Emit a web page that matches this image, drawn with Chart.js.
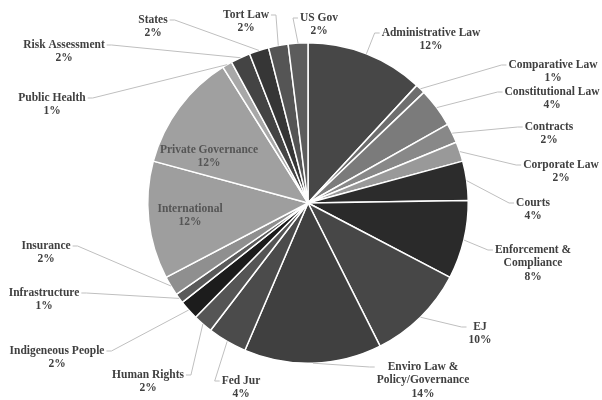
<!DOCTYPE html>
<html>
<head>
<meta charset="utf-8">
<script src="https://cdn.jsdelivr.net/npm/chart.js@4"></script>
<style>
  html, body { margin: 0; padding: 0; background: #fff; }
  #wrap { width: 602px; height: 400px; }
</style>
</head>
<body>
<div id="wrap"><canvas id="pie"></canvas></div>
<script>
const categories = [
  'Administrative Law', 'Comparative Law', 'Constitutional Law', 'Contracts', 'Corporate Law',
  'Courts', 'Enforcement &\nCompliance', 'EJ', 'Enviro Law &\nPolicy/Governance', 'Fed Jur',
  'Human Rights', 'Indigeneous People', 'Infrastructure', 'Insurance', 'International',
  'Private Governance', 'Public Health', 'Risk Assessment', 'States', 'Tort Law', 'US Gov'
];
const shares = [12, 1, 4, 2, 2, 4, 8, 10, 14, 4, 2, 2, 1, 2, 12, 12, 1, 2, 2, 2, 2];
const sliceColors = [
  '#474747', '#6e6e6e', '#7b7b7b', '#888888', '#999999',
  '#2c2c2c', '#2a2a2a', '#474747', '#404040', '#4b4b4b',
  '#555555', '#1c1c1c', '#5a5a5a', '#8f8f8f', '#9e9e9e',
  '#a0a0a0', '#a8a8a8', '#444444', '#363636', '#555555', '#5c5c5c'
];

// label placement (text centre, first line) - layout only
const labelPos = [
  [431, 33], [553, 65], [552, 92], [549, 127], [561, 165],
  [533, 203], [533, 250], [480, 327], [423, 367], [241, 381],
  [148, 375], [57, 351], [44, 293], [46, 246], [190, 209],
  [209, 150], [52, 98], [64, 45], [153, 20], [246, 15], [319, 18]
];
const insideLabels = ['International', 'Private Governance'];

const total = shares.reduce((a, b) => a + b, 0);

const outsideLabels = {
  id: 'outsideLabels',
  afterDatasetsDraw(chart) {
    const ctx = chart.ctx;
    const meta = chart.getDatasetMeta(0);
    ctx.save();
    ctx.font = 'bold 11.5px "Liberation Serif", "DejaVu Serif", serif';
    ctx.textAlign = 'center';
    ctx.textBaseline = 'middle';
    const lh = 13.5;
    meta.data.forEach((arc, i) => {
      const lines = categories[i].split('\n');
      lines.push(Math.round(shares[i] / total * 100) + '%');
      const [lx, ly] = labelPos[i];
      const inside = insideLabels.includes(categories[i]);
      if (!inside) {
        const mid = (arc.startAngle + arc.endAngle) / 2;
        const px = arc.x + Math.cos(mid) * arc.outerRadius;
        const py = arc.y + Math.sin(mid) * arc.outerRadius;
        const w = Math.max(...lines.map(t => ctx.measureText(t).width));
        const right = lx > px;
        const ax = right ? lx - w / 2 - 2 : lx + w / 2 + 2;
        const ex = right ? ax - 5 : ax + 5;
        ctx.strokeStyle = '#bfbfbf';
        ctx.lineWidth = 1;
        ctx.beginPath();
        ctx.moveTo(px, py);
        ctx.lineTo(ex, ly);
        ctx.lineTo(ax, ly);
        ctx.stroke();
      }
      ctx.fillStyle = inside ? '#555555' : '#404040';
      lines.forEach((t, k) => ctx.fillText(t, lx, ly + k * lh));
    });
    ctx.restore();
  }
};

new Chart(document.getElementById('pie'), {
  type: 'pie',
  data: {
    labels: categories,
    datasets: [{
      data: shares,
      backgroundColor: sliceColors,
      borderColor: '#ffffff',
      borderWidth: 1.5
    }]
  },
  options: {
    responsive: true,
    maintainAspectRatio: false,
    animation: false,
    layout: { padding: { top: 42, bottom: 36, left: 20, right: 6 } },
    plugins: { legend: { display: false }, tooltip: { enabled: false } }
  },
  plugins: [outsideLabels]
});
</script>
</body>
</html>
